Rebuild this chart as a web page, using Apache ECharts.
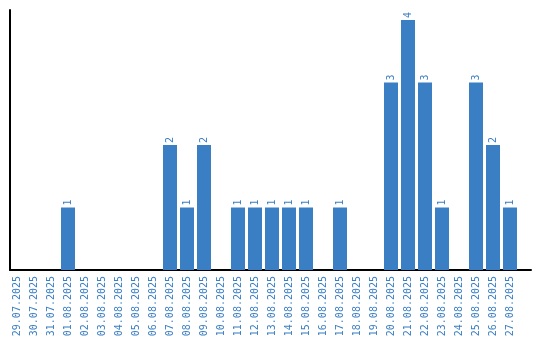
<!DOCTYPE html>
<html>
<head>
<meta charset="utf-8">
<script src="https://cdn.jsdelivr.net/npm/echarts@6/dist/echarts.min.js"></script>
<style>html,body{margin:0;padding:0;background:#fff}#c{width:540px;height:340px}</style>
</head>
<body>
<div id="c"></div>
<script>
const categories = ["29.07.2025","30.07.2025","31.07.2025","01.08.2025","02.08.2025","03.08.2025","04.08.2025","05.08.2025","06.08.2025","07.08.2025","08.08.2025","09.08.2025","10.08.2025","11.08.2025","12.08.2025","13.08.2025","14.08.2025","15.08.2025","16.08.2025","17.08.2025","18.08.2025","19.08.2025","20.08.2025","21.08.2025","22.08.2025","23.08.2025","24.08.2025","25.08.2025","26.08.2025","27.08.2025"];
const counts = [0,0,0,1,0,0,0,0,0,2,1,2,0,1,1,1,1,1,0,1,0,0,3,4,3,1,0,3,2,1];

const blue = '#3a7ec3';
const chart = echarts.init(document.getElementById('c'), null, {renderer:'canvas'});
chart.setOption({
  animation: false,
  grid: [
    {left: 8.5, right: 21.5, top: 10, bottom: 70, containLabel: false},
    {left: 10, right: 9, top: 10, bottom: 70, containLabel: false}
  ],
  xAxis: [{
    type: 'category',
    gridIndex: 0,
    data: categories,
    axisLine: {show: false},
    axisTick: {show: false},
    axisLabel: {rotate: 90, color: blue, fontFamily: 'DejaVu Sans Mono', fontSize: 10, margin: 6, interval: 0}
  }, {
    type: 'value',
    gridIndex: 1,
    min: 0, max: 1,
    axisLine: {show: true, lineStyle: {color: '#000', width: 2}},
    axisTick: {show: false},
    axisLabel: {show: false},
    splitLine: {show: false}
  }],
  yAxis: [{
    type: 'value',
    gridIndex: 0,
    min: 0, max: 4.16,
    axisLine: {show: false},
    axisTick: {show: false},
    axisLabel: {show: false},
    splitLine: {show: false}
  }, {
    type: 'value',
    gridIndex: 1,
    min: 0, max: 1,
    axisLine: {show: true, lineStyle: {color: '#000', width: 2}},
    axisTick: {show: false},
    axisLabel: {show: false},
    splitLine: {show: false}
  }],
  series: [{
    type: 'bar',
    xAxisIndex: 0, yAxisIndex: 0,
    data: counts,
    barWidth: 14,
    itemStyle: {color: blue},
    label: {
      show: true, position: 'top', rotate: 90, align: 'left', verticalAlign: 'middle',
      distance: 2, color: blue, fontFamily: 'DejaVu Sans Mono', fontSize: 10,
      formatter: p => p.value ? String(p.value) : ''
    }
  }]
});
</script>
</body>
</html>
